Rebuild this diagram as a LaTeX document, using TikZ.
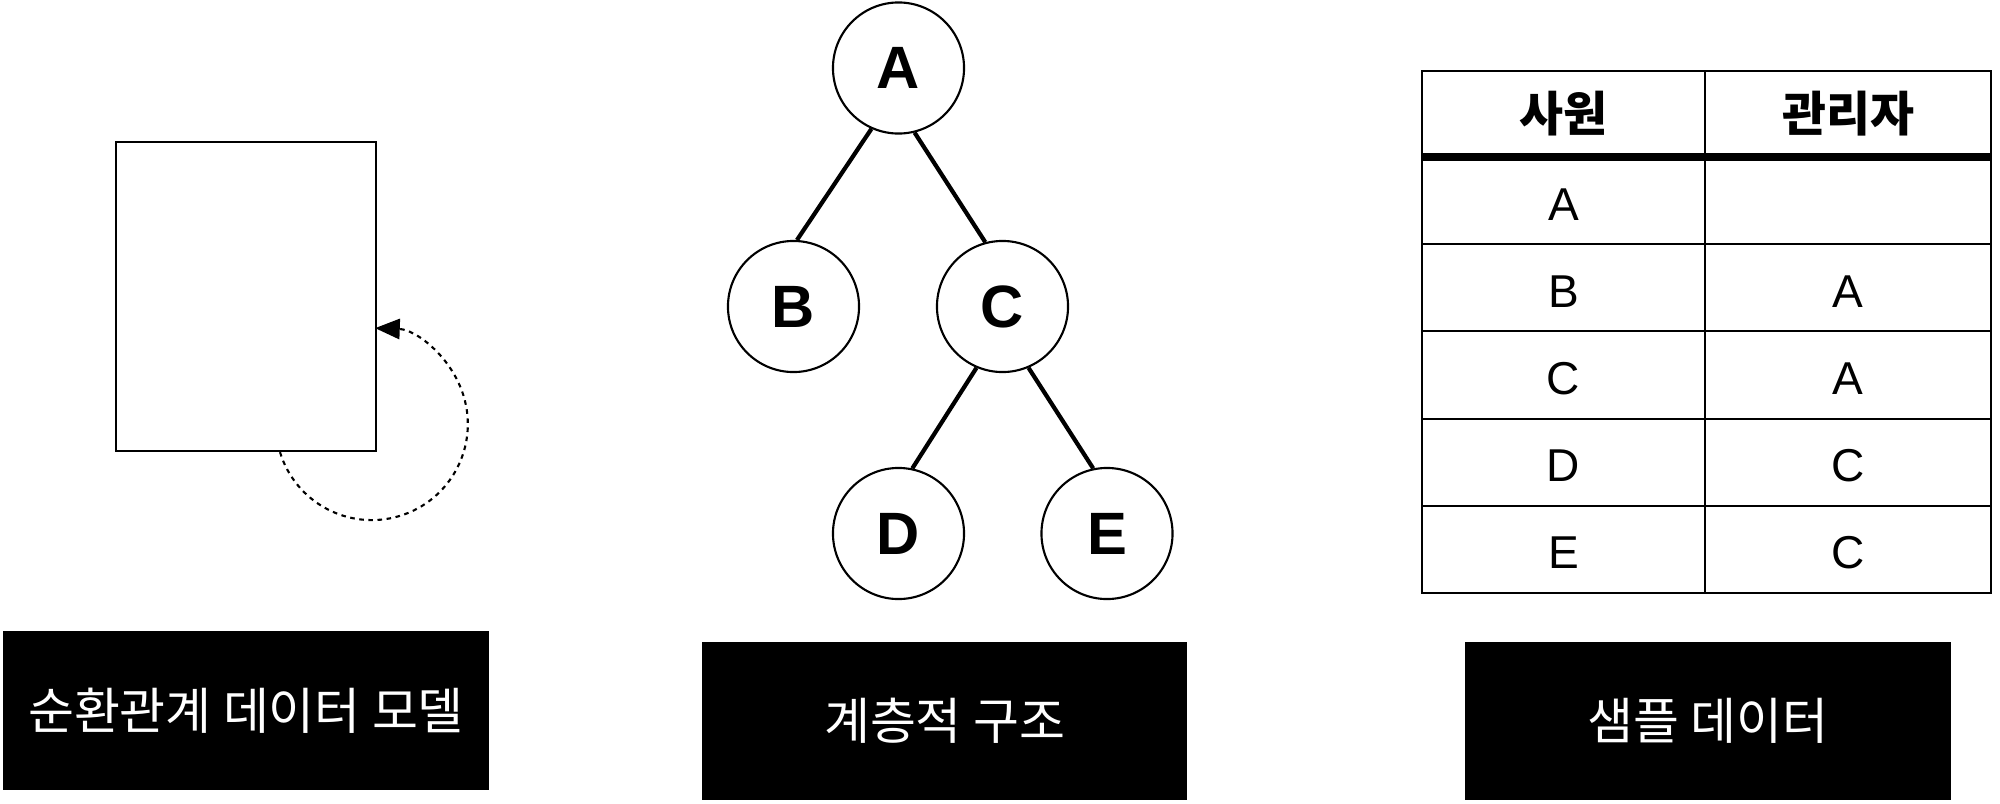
\documentclass[tikz,border=0pt]{standalone}
\usepackage{fontspec}
\setmainfont{Liberation Sans}
\newfontfamily\kr{Noto Sans CJK KR}
\usetikzlibrary{arrows.meta,calc,shapes.geometric}
\begin{document}
\begin{tikzpicture}[x=0.01cm,y=-0.01cm,
  tnode/.style={circle,draw,line width=0.6pt,minimum size=1.31cm,inner sep=0pt,font=\fontsize{17}{20}\selectfont\bfseries},
  tedge/.style={line width=1.2pt},
  label/.style={fill=black,text=white,inner sep=0pt,font=\kr\fontsize{14.2}{17}\selectfont},
  cell/.style={inner sep=0pt,font=\fontsize{13.1}{15}\selectfont},
  hcell/.style={inner sep=0pt,font=\kr\bfseries\fontsize{13.6}{16}\selectfont},
  tline/.style={line width=0.6pt}
]
\useasboundingbox (0,0) rectangle (2000,803);

% left: recursive relationship model
\node[draw,line width=0.6pt,minimum width=2.6cm,minimum height=3.09cm,inner sep=0pt] (R) at (246,296.5) {};
\coordinate (s) at ($(R.south)+(34,0)$);
\draw[line width=0.6pt,dash pattern=on 1.3pt off 1.3pt,-{Triangle[length=7pt,width=5.8pt]}]
  (s) arc[start angle=163,end angle=-88,radius=96];

% middle: tree
\node[tnode] (A) at (898.5,68) {A};
\node[tnode] (B) at (793.5,306.5) {B};
\node[tnode] (C) at (1002.5,306.5) {C};
\node[tnode] (D) at (898.5,533.5) {D};
\node[tnode] (E) at (1107,533.5) {E};
\draw[tedge] (A.246) -- (B.87);
\draw[tedge] (A.284) -- (C.105);
\draw[tedge] (C.247) -- (D.78);
\draw[tedge] (C.293) -- (E.102);

% right: table
\draw[tline] (1422,71) rectangle (1991,593);
\draw[tline] (1705,71) -- (1705,593);
\draw[tline] (1422,244.2) -- (1991,244.2);
\draw[tline] (1422,331.4) -- (1991,331.4);
\draw[tline] (1422,418.6) -- (1991,418.6);
\draw[tline] (1422,505.8) -- (1991,505.8);
\draw[line width=2pt] (1422,157) -- (1704,157);
\draw[line width=2pt] (1706,157) -- (1991,157);

\node[hcell] (h1) at (1563.5,114) {사원};
\node[hcell] (h2) at (1848,114) {관리자};
\node[cell] (r1a) at (1563.5,205) {A};
\node[cell] (r2a) at (1563.5,292) {B};
\node[cell] (r2b) at (1848,292) {A};
\node[cell] (r3a) at (1563.5,379) {C};
\node[cell] (r3b) at (1848,379) {A};
\node[cell] (r4a) at (1563.5,466) {D};
\node[cell] (r4b) at (1848,466) {C};
\node[cell] (r5a) at (1563.5,553) {E};
\node[cell] (r5b) at (1848,553) {C};

% bottom labels
\node[label,minimum width=4.86cm,minimum height=1.59cm] (L1) at (246,710.5) {순환관계 데이터 모델};
\node[label,minimum width=4.85cm,minimum height=1.58cm] (L2) at (944.5,721) {계층적 구조};
\node[label,minimum width=4.86cm,minimum height=1.58cm] (L3) at (1708,721) {샘플 데이터};
\end{tikzpicture}
\end{document}
